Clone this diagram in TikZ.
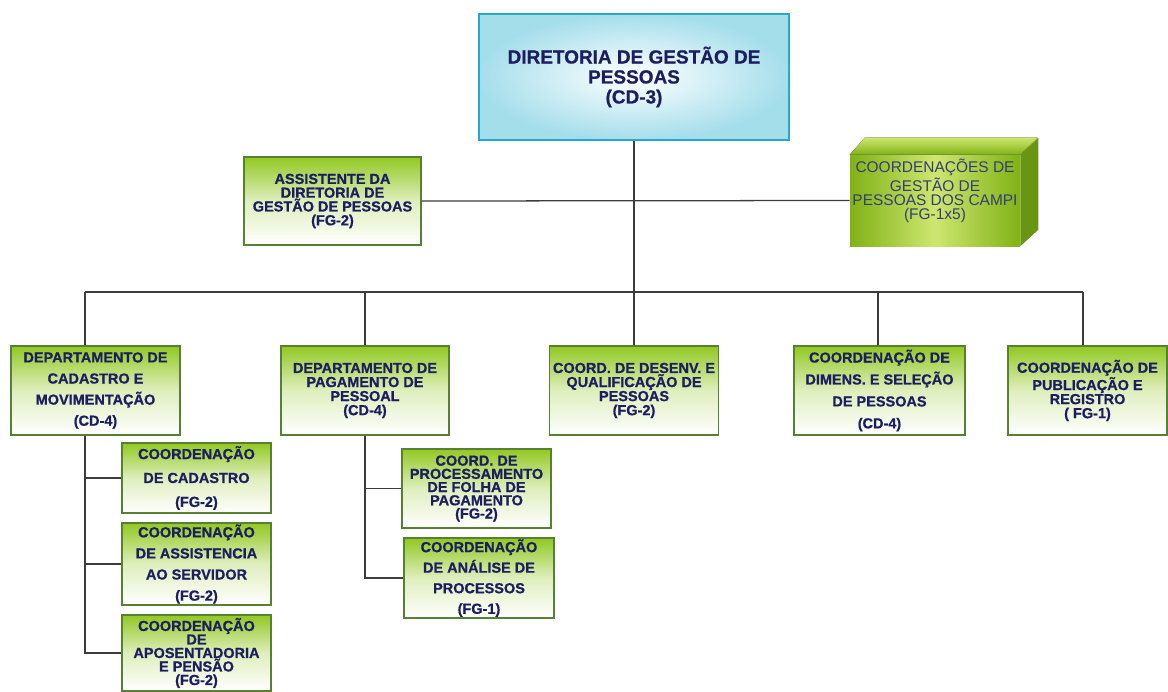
\documentclass[tikz,border=0pt]{standalone}
\usepackage{fontspec}
\setmainfont{Liberation Sans}[BoldFeatures={FakeBold=0.8}]
\definecolor{navytext}{RGB}{28,30,96}
\definecolor{slatetext}{RGB}{52,62,112}
\definecolor{boxgreen}{RGB}{146,200,34}
\definecolor{boxedge}{RGB}{88,128,52}
\definecolor{dgpedge}{RGB}{40,168,200}
\definecolor{dgpcyan}{RGB}{165,222,235}
\definecolor{cubedark}{RGB}{128,178,22}
\definecolor{cubelight}{RGB}{206,230,112}
\definecolor{cubeside}{RGB}{104,150,18}
\definecolor{linegray}{RGB}{60,60,60}
\begin{document}
\begin{tikzpicture}[x=0.025cm, y=-0.025cm,
    orgbox/.style={draw=boxedge, line width=0.8pt, top color=boxgreen,
        bottom color=white, middle color=boxgreen!30!white,
        text=navytext, align=center, inner sep=0pt},
    boxsize/.style 2 args={minimum width=#1*0.025cm, minimum height=#2*0.025cm},
    lsp/.style={font=\bfseries\fontsize{10.3}{#1}\selectfont},
    link/.style={draw=linegray, line width=0.9pt}]
    \useasboundingbox (0,0) rectangle (1168,691);

    % Diretoria
    \node[draw=dgpedge, line width=2pt, inner color=white, outer color=dgpcyan,
          boxsize={310}{126}, text=navytext, align=center,
          font=\bfseries\fontsize{13.5}{14.2}\selectfont] (dgp) at (634,77)
        {DIRETORIA DE GESTÃO DE\\PESSOAS\\(CD-3)};

    % Assistente and campi
    \node[orgbox, boxsize={177}{88}, lsp=9.8] (assist) at (332.5,201)
        {ASSISTENTE DA\\DIRETORIA DE\\GESTÃO DE PESSOAS\\(FG-2)};
    \node[left color=cubedark, right color=cubedark, middle color=cubelight,
          boxsize={170}{91}, inner sep=0pt] (campi) at (935,200.5) {};
    \fill[top color=cubelight, bottom color=cubedark]
        (campi.north west) -- ++(15,-17) -- ++(173,0) -- (campi.north east) -- cycle;
    \fill[cubeside]
        (campi.north east) -- ++(18,-17) -- ++(0,92) -- (campi.south east) -- cycle;
    \node[text=slatetext, align=center, font=\fontsize{11}{10}\selectfont]
        (campitext) at (935,191)
        {COORDENAÇÕES DE\\GESTÃO DE\\PESSOAS DOS CAMPI\\(FG-1x5)};

    % Departamentos e coordenacoes
    \node[orgbox, boxsize={169}{89}, lsp=15] (dcm) at (95.5,390.5)
        {DEPARTAMENTO DE\\CADASTRO E\\MOVIMENTAÇÃO\\(CD-4)};
    \node[orgbox, boxsize={168}{89}, lsp=10] (dpp) at (365,390.5)
        {DEPARTAMENTO DE\\PAGAMENTO DE\\PESSOAL\\(CD-4)};
    \node[orgbox, boxsize={169}{89}, lsp=10] (cdq) at (634,390.5)
        {COORD. DE DESENV. E\\QUALIFICAÇÃO DE\\PESSOAS\\(FG-2)};
    \node[orgbox, boxsize={171}{89}, lsp=15.6] (cds) at (879.5,390.5)
        {COORDENAÇÃO DE\\DIMENS. E SELEÇÃO\\DE PESSOAS\\(CD-4)};
    \node[orgbox, boxsize={159}{89}, lsp=10] (cpr) at (1087.5,390.5)
        {COORDENAÇÃO DE\\PUBLICAÇÃO E\\REGISTRO\\( FG-1)};

    % Sub-coordenacoes
    \node[orgbox, boxsize={149}{70}, lsp=17] (ccad) at (196.5,478)
        {COORDENAÇÃO\\DE CADASTRO\\(FG-2)};
    \node[orgbox, boxsize={149}{82}, lsp=15] (cass) at (196.5,564)
        {COORDENAÇÃO\\DE ASSISTENCIA\\AO SERVIDOR\\(FG-2)};
    \node[orgbox, boxsize={149}{76}, lsp=9.6] (capo) at (196.5,653)
        {COORDENAÇÃO\\DE\\APOSENTADORIA\\E PENSÃO\\(FG-2)};
    \node[orgbox, boxsize={149}{79}, lsp=9.4] (cproc) at (476.5,488.5)
        {COORD. DE\\PROCESSAMENTO\\DE FOLHA DE\\PAGAMENTO\\(FG-2)};
    \node[orgbox, boxsize={150}{80}, lsp=14.6] (cana) at (479,578)
        {COORDENAÇÃO\\DE ANÁLISE DE\\PROCESSOS\\(FG-1)};

    % Links
    \coordinate (busL) at (85,292);
    \coordinate (busR) at (1083,292);
    \draw[link] (assist.east) -- (campi.west);
    \draw[link] (dgp.south) -- (cdq.north);
    \draw[link] (busL) -- (busR);
    \foreach \x/\n in {85/dcm, 365/dpp, 878/cds, 1083/cpr}
        \draw[link] (\x,292) -- (\x,292 |- \n.north);

    \draw[link] (busL |- dcm.south) |- (capo.west);
    \draw[link] (busL |- ccad.west) -- (ccad.west);
    \draw[link] (busL |- cass.west) -- (cass.west);
    \draw[link] (dpp.south) |- (cana.west);
    \draw[link] (dpp.south |- cproc.west) -- (cproc.west);
\end{tikzpicture}
\end{document}
